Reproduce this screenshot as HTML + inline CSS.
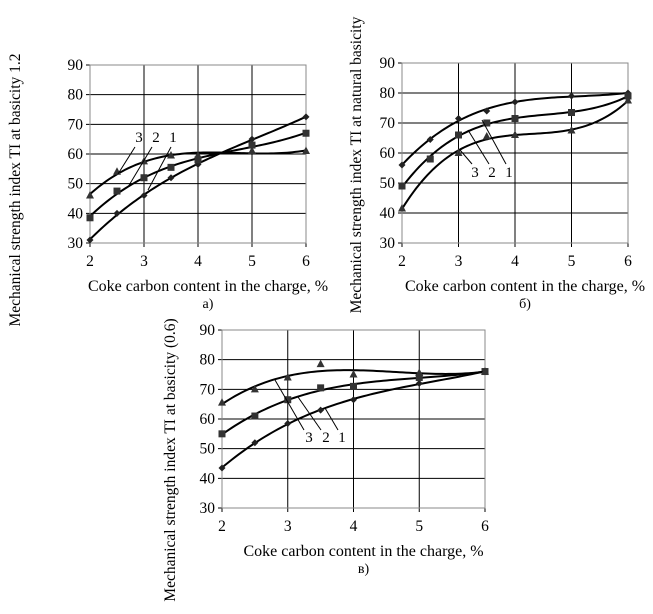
<!DOCTYPE html>
<html><head><meta charset="utf-8"><style>
body{margin:0;background:#fff;width:653px;height:609px;overflow:hidden}
svg{font-family:"Liberation Serif","DejaVu Serif",serif}
</style></head><body>
<svg id="s" width="653" height="609"></svg>
<script>
const xCats=[2,2.5,3,3.5,4,5,6];
const xTicks=[2,3,4,5,6];
const yTicks=[30,40,50,60,70,80,90];
const aS1=[31,40,46,52,56.5,65,72.5];
const aS2=[38.5,47.5,52,55.5,58,63,67];
const aS3=[46,54,57.5,59.5,59.5,61,61];
const bS1=[56,64.5,71.5,74,77,79,80];
const bS2=[49,58,66,70,71.5,73.5,79];
const bS3=[41.5,null,60,65.5,66,67.5,77.5];
const cS1=[43.5,52,58.5,63,66.5,72,76];
const cS2=[55,61,66.5,70.5,71,74,76];
const cS3=[65.5,70,74,78.5,75,75.5,76];
const NS="http://www.w3.org/2000/svg";
const svg=document.getElementById('s');
function mk(tag,attrs,parent,text){const e=document.createElementNS(NS,tag);for(const k in attrs)e.setAttribute(k,attrs[k]);if(text!==undefined)e.textContent=text;(parent||svg).appendChild(e);return e;}
function polyfit(xs,ys,deg){
  const n=deg+1;const A=[];for(let i=0;i<n;i++){A.push(new Array(n+1).fill(0));}
  xs.forEach((x,k)=>{for(let i=0;i<n;i++){for(let j=0;j<n;j++)A[i][j]+=Math.pow(x,i+j);A[i][n]+=ys[k]*Math.pow(x,i);}});
  for(let i=0;i<n;i++){let p=i;for(let r=i+1;r<n;r++)if(Math.abs(A[r][i])>Math.abs(A[p][i]))p=r;[A[i],A[p]]=[A[p],A[i]];
    for(let r=0;r<n;r++){if(r===i)continue;const f=A[r][i]/A[i][i];for(let c=i;c<=n;c++)A[r][c]-=f*A[i][c];}}
  return A.map((row,i)=>row[n]/row[i]);
}
function chart(id,x0,x1,y0,y1,series,ytitle,caption,tx,ty,labels,leaders){
  const g=mk('g',{});
  
  
  const X=v=>x0+(v-2)/4*(x1-x0);
  const Y=v=>y1-(v-30)/60*(y1-y0);
  yTicks.forEach(t=>{const l=mk('line',{x1:x0-4,x2:x1,y1:Y(t),y2:Y(t),stroke:'#000','stroke-width':1},g);
    
    const tt=mk('text',{x:x0-7,y:Y(t)+5,'text-anchor':'end','font-size':15.5},g,t);
    });
  xTicks.forEach(t=>{const l=mk('line',{x1:X(t),x2:X(t),y1:y0,y2:y1+4,stroke:'#000','stroke-width':1},g);
    
    const tt=mk('text',{x:X(t),y:y1+23,'text-anchor':'middle','font-size':15.5},g,t);
    });
  const fr=mk('rect',{x:x0,y:y0,width:x1-x0,height:y1-y0,fill:'none',stroke:'#888'},g);
  
  const shapes=['diamond','square','triangle'];
  series.forEach((s,si)=>{
    const xs=[],ys=[];s.forEach((v,i)=>{if(v!==null){xs.push(xCats[i]);ys.push(v);}});
    const c=polyfit(xs,ys,3);
    let d='';for(let k=0;k<=80;k++){const x=2+4*k/80;const y=c[0]+c[1]*x+c[2]*x*x+c[3]*x*x*x;d+=(k?' L':'M')+X(x).toFixed(2)+','+Y(y).toFixed(2);}
    const path=mk('path',{d:d,fill:'none',stroke:'#000','stroke-width':2},g);
    
    xs.forEach((xv,k)=>{const p=[X(xv),Y(ys[k])];let m;
      if(shapes[si]==='diamond')m=mk('polygon',{points:`${p[0]},${p[1]-3.5} ${p[0]+3.5},${p[1]} ${p[0]},${p[1]+3.5} ${p[0]-3.5},${p[1]}`,fill:'#222'},g);
      else if(shapes[si]==='square')m=mk('rect',{x:p[0]-3.5,y:p[1]-3.5,width:7,height:7,fill:'#333'},g);
      else m=mk('polygon',{points:`${p[0]},${p[1]-4.5} ${p[0]+4},${p[1]+3} ${p[0]-4},${p[1]+3}`,fill:'#333'},g);
      });
  });
  const yt=mk('text',{x:tx,y:ty,'text-anchor':'middle','font-size':15.5,transform:`rotate(-90 ${tx} ${ty})`},g,ytitle);
  
  const xt=mk('text',{x:(x0+x1)/2+10,y:y1+48,'text-anchor':'middle','font-size':16},g,'Coke carbon content in the charge, %');
  
  const cp=mk('text',{x:(x0+x1)/2+10,y:y1+65,'text-anchor':'middle','font-size':14},g,caption);
  
  labels.forEach((L,i)=>{const t=mk('text',{x:L[0],y:L[1],'text-anchor':'middle','font-size':15},g,L[2]);
    
    const ld=leaders[i];const l=mk('line',{x1:ld[0],y1:ld[1],x2:ld[2],y2:ld[3],stroke:'#000','stroke-width':1},g);
    });
}
chart('chart-a',90,306,65,243,[aS1,aS2,aS3],'Mechanical strength index TI at basicity 1.2','a)',20,190,
 [[139,142,'3'],[156,142,'2'],[173,142,'1']],
 [[135,147,118,174],[152,147,128,187],[171,147,148,190]]);
chart('chart-b',402,628,63,243,[bS1,bS2,bS3],'Mechanical strength index TI at natural basicity','б)',361,165,
 [[475,177,'3'],[492,177,'2'],[509,177,'1']],
 [[472,164,460,150],[489,164,468,130],[506,164,482,120]]);
chart('chart-c',222,485,330,508,[cS1,cS2,cS3],'Mechanical strength index TI at basicity (0.6)','в)',175,460,
 [[309,442,'3'],[326,442,'2'],[342,442,'1']],
 [[304,430,275,380],[321,430,298,397],[338,430,325,408]]);
</script>
</body></html>
